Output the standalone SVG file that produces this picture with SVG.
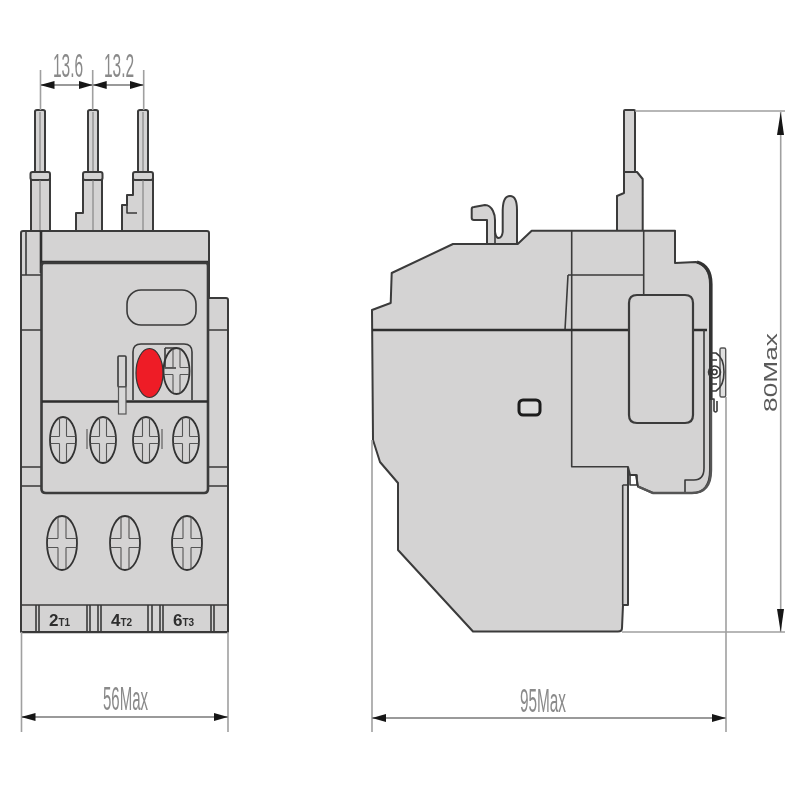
<svg xmlns="http://www.w3.org/2000/svg" width="800" height="800" viewBox="0 0 800 800">
<style>
.b{fill:#d4d3d3;stroke:#3a3a3a;stroke-width:2;stroke-linejoin:round}
.l{fill:none;stroke:#3a3a3a;stroke-width:1.6;stroke-linejoin:round}
.t{fill:none;stroke:#2e2e2e;stroke-width:2.6;stroke-linejoin:round}
.c{fill:none;stroke:#777;stroke-width:1}
.d{fill:none;stroke:#a0a0a0;stroke-width:1.6}
.a{fill:none;stroke:#9a9a9a;stroke-width:1.8;marker-start:url(#s);marker-end:url(#e)}
.dim{font-family:"Liberation Sans",Arial,sans-serif;font-size:33px;fill:#8a8a8a;stroke:none}
.lab{font-family:"Liberation Sans",Arial,sans-serif;font-weight:bold;fill:#2e2e2e;stroke:none}
.sc{fill:none;stroke:#333;stroke-width:1.8}
.sl{fill:none;stroke:#555;stroke-width:1.1}
</style>
<defs>
<marker id="e" markerUnits="userSpaceOnUse" markerWidth="14" markerHeight="8" refX="14" refY="4" orient="auto"><path d="M0 0L14 4L0 8Z" fill="#151515"/></marker>
<marker id="s" markerUnits="userSpaceOnUse" markerWidth="14" markerHeight="8" refX="0" refY="4" orient="auto"><path d="M14 0L0 4L14 8Z" fill="#151515"/></marker>
<filter id="soft" x="-5%" y="-5%" width="110%" height="110%"><feGaussianBlur stdDeviation="0.5"/></filter>
<g id="sa"><ellipse rx="13" ry="23" class="sc"/><path class="sl" d="M-3.500-22V-3.500M-3.500 3.500V22M3.500-22V-3.500M3.500 3.500V22M-12.500-3.500H-3.500M3.500-3.500H12.500M-12.500 3.500H-3.500M3.500 3.500H12.500"/></g>
<g id="sb"><ellipse rx="15" ry="27" class="sc"/><path class="sl" d="M-4-26V-4.500M-4 4.500V26M4-26V-4.500M4 4.500V26M-14.500-4.500H-4M4-4.500H14.500M-14.500 4.500H-4M4 4.500H14.500"/></g>
</defs>
<g filter="url(#soft)">
<g id="front-view">
<path class="b" d="M35 172V111.500Q35 110 37 110H43Q45 110 45 111.500V172ZM88 172V111.500Q88 110 90 110H96Q98 110 98 111.500V172ZM138 172V111.500Q138 110 140 110H146Q148 110 148 111.500V172Z"/>
<path class="c" d="M40 112V172M93 112V172M143 112V172"/>
<path class="b" d="M31 178H50V231H31ZM83 178H102V231H76V213H83ZM133 178H153V231H122V205H127V195H133Z"/>
<path class="l" d="M127 205V213H137"/>
<rect class="b" x="30.500" y="172" width="19.500" height="8" rx="2"/>
<rect class="b" x="83" y="172" width="19.500" height="8" rx="2"/>
<rect class="b" x="133" y="172" width="20" height="8" rx="2"/>
<path class="c" d="M40 180V230M93 180V242M143 180V246"/>
<path class="b" d="M21 632V233Q21 231 23 231H207Q209 231 209 233V298H226Q228 298 228 300V632Z"/>
<path class="l" d="M26 232V275M21 275H41M21 330H41M208 330H228M21 467H41M208 467H228M21 486H41M208 486H228"/>
<path class="t" d="M41 231V273M41 262H208"/>
<path class="b" style="stroke-width:2.600" d="M41.500 266Q41.500 263 44 263H206Q208 263 208 266V489Q208 493 204 493H46Q41.500 493 41.500 489Z"/>
<rect class="l" x="127" y="290" width="69" height="35" rx="14"/>
<path class="t" d="M42 401.500H208"/>
<path class="l" d="M133 400V352Q133 344 141 344H184Q192 344 192 352V400"/>
<path class="l" d="M165 348V368H176M165 348H176"/>
<use href="#sa" x="176.500" y="371"/>
<ellipse id="reset" cx="149.500" cy="373" rx="13.500" ry="24.500" fill="#ee1c25" stroke="#333" stroke-width="1.200"/>
<rect x="118" y="356" width="8" height="31" rx="1" fill="#d4d3d3" stroke="#3a3a3a" stroke-width="1.600"/>
<rect x="118.500" y="387" width="7.500" height="27" fill="#d8d8d8" stroke="#555" stroke-width="1.200"/>
<use href="#sa" x="63" y="440"/><use href="#sa" x="103" y="440"/><use href="#sa" x="146" y="440"/><use href="#sa" x="186" y="440"/>
<path class="sl" d="M87 429V449M162 429V449"/>
<use href="#sb" x="62" y="543"/><use href="#sb" x="125" y="543"/><use href="#sb" x="187" y="543"/>
<path class="l" d="M21 605H228M21 632.500H228"/>
<path class="l" stroke-width="1.200" d="M36 605V632M39 605V632M87 605V632M90 605V632M98 605V632M101 605V632M148 605V632M152 605V632M160 605V632M163 605V632M211 605V632M214 605V632"/>
<text class="lab" x="49" y="626" font-size="17">2<tspan font-size="10">T1</tspan></text>
<text class="lab" x="111" y="626" font-size="17">4<tspan font-size="10">T2</tspan></text>
<text class="lab" x="173" y="626" font-size="17">6<tspan font-size="10">T3</tspan></text>
</g>
<g id="side-view">
<path class="b" d="M624 173V111Q624 110 625 110H634Q635 110 635 111V173Z"/>
<path class="b" d="M617 231V196L624 193V172H637L642.700 179V231Z"/>
<path class="b" d="M487 245V220H474Q471.700 220 471.700 218V209Q471.700 207 474 207L485 205Q490 205 493 211Q495 215 495 220V232Q496 238 498.500 238Q502 238 502.700 232V210Q503 196 510 196Q517 196 517 210V245Z"/>
<path class="b" d="M372 310L390.700 303L391.700 273L453 244H517.700L531.700 230.700H675V263L696 262Q710 266 710 284V470Q710 493 692 493H653L638 486.500L636 475H630L628 467V483L628 605H623L622 628Q622 631.500 618 631.500H473L398 550V483L380 462L373 440Z"/>
<path class="l" d="M495 233V244M571.700 231V466.700H628M643.700 231V295M568 275H643M568 275L565 330"/>
<path class="t" d="M372 330H629M693 330H707"/>
<path class="l" d="M622.700 485H628M622.700 485V605M630 475H637V485H630ZM704 330V468Q704 480 694 480H685V493"/>
<path d="M697 262Q711 266 711 284V400" fill="none" stroke="#333" stroke-width="3.200"/>
<path d="M711 400V470Q711 493 692 493H653L638 486.500" fill="none" stroke="#555" stroke-width="2.400"/>
<path class="b" style="stroke-width:2.200" d="M629 303Q629 295 637 295H685Q693 295 693 303V415Q693 423 685 423H637Q629 423 629 415Z"/>
<rect x="720" y="348" width="5.700" height="49" rx="1.500" fill="#e0e0e0" stroke="#555" stroke-width="1.400"/>
<path class="l" d="M711 353H716Q724 358 724 372Q724 386 716 391H711"/>
<circle cx="714.500" cy="372" r="6" class="l"/><circle cx="714.500" cy="372" r="2.500" class="l"/>
<path class="l" d="M711 399H714V411Q716 413 717 411V401M711 360H717M711 384H717"/>
<rect id="slot" x="519" y="400" width="21" height="15" rx="4" fill="#dcdcdc" stroke="#1c1c1c" stroke-width="3"/>
</g>
</g>
<g id="dimensions" filter="url(#soft)">
<path class="d" d="M40.500 70V110M92.700 70V110M143.700 70V110M21.500 632V732M228 632V732M372 440V732M726 397V732M635 111H785M622 632H785"/>
<path class="a" d="M40.500 85H92.700"/>
<path class="a" d="M92.700 85H143.700"/>
<path class="a" d="M21.500 717H228"/>
<path class="a" d="M372 718H726"/>
<path class="d" d="M780.700 112V632"/>
<path d="M777 135L780.700 112L784 135Z" fill="#151515"/>
<path d="M777 609L780.700 632L784 609Z" fill="#151515"/>
<text class="dim" transform="translate(53 77) scale(.47 1)">13.6</text>
<text class="dim" transform="translate(104 77) scale(.47 1)">13.2</text>
<text class="dim" transform="translate(103 710) scale(.455 1)">56Max</text>
<text class="dim" transform="translate(520 712) scale(.465 1)">95Max</text>
<text class="dim" transform="translate(777 412) rotate(-90) scale(1.386 1)" style="font-size:19px;fill:#5a5a5a">80Max</text>
</g>
</svg>
